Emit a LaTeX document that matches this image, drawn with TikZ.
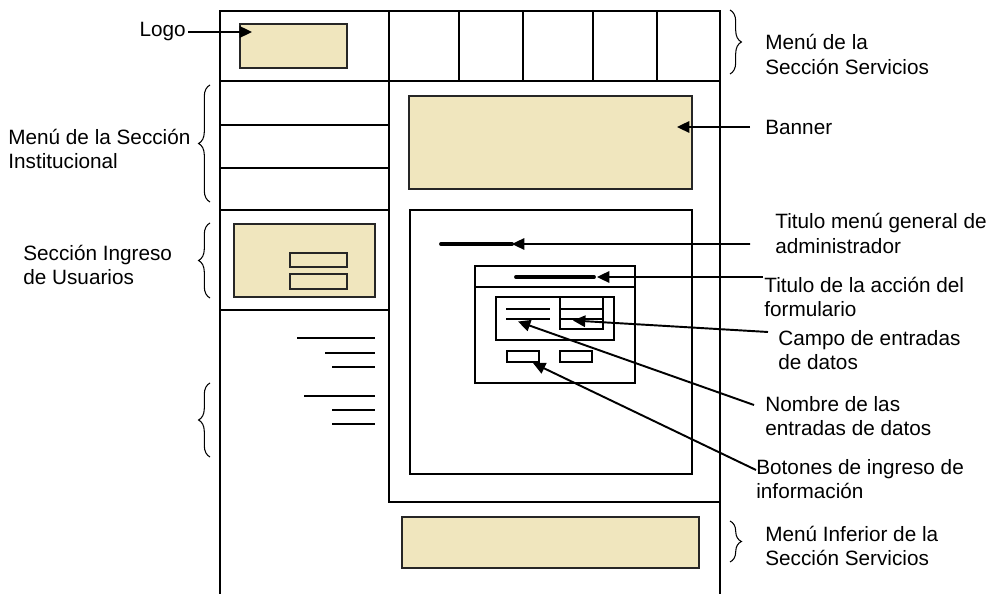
\documentclass[tikz,border=0pt]{standalone}
\usepackage{fontspec}
\setmainfont{Liberation Sans}
\usetikzlibrary{arrows.meta,decorations.pathreplacing,calc}
\definecolor{boxfill}{RGB}{240,230,190}
\tikzset{
  frame/.style={line width=1.1pt},
  thinline/.style={line width=0.8pt},
  fillbox/.style={draw=black!85, line width=0.8pt, fill=boxfill},
  pointer/.style={line width=1.1pt, -{Triangle[length=7pt,width=6.5pt]}},
  curly/.style={decorate, decoration={brace, amplitude=6.5pt}, line width=0.6pt},
  lbl/.style={font=\fontsize{11.8}{14}\selectfont, inner sep=0pt, align=left, anchor=west},
}
\begin{document}
\begin{tikzpicture}[x=0.02cm, y=-0.02cm]
    \useasboundingbox (0,0) rectangle (994,594);
    % page frame
    \draw[frame] (220,594) -- (220,11) -- (720,11) -- (720,594);
    \draw[frame] (220,81) -- (720,81);
    \draw[frame] (389,11) -- (389,502) -- (720,502);
    \foreach \x in {459,523,593,657} \draw[thinline] (\x,11) -- (\x,81);
    \foreach \y in {125,168} \draw[thinline] (220,\y) -- (389,\y);
    \draw[frame] (220,210) -- (389,210);
    \draw[frame] (220,310) -- (389,310);
    % logo, banner, footer
    \draw[fillbox] (240,24) rectangle (347,68);
    \draw[fillbox] (409,96) rectangle (692,189);
    \draw[fillbox] (402,517) rectangle (699,568);
    % login
    \draw[fillbox] (234,224) rectangle (375,297);
    \draw[fillbox] (290,253) rectangle (347,267);
    \draw[fillbox] (290,274) rectangle (347,289);
    \foreach \xa/\y in {297/338, 325/353, 332/367, 304/396, 332/410, 332/424}
        \draw[thinline] (\xa,\y) -- (375,\y);
    % content area and form
    \draw[frame] (410,210) rectangle (692,474);
    \draw[thinline] (475,266) rectangle (635,383);
    \draw[thinline] (475,287) -- (635,287);
    \draw[thinline] (496,297) rectangle (614,340);
    \draw[thinline] (560,297) rectangle (603,329);
    \foreach \y in {309,319} {
        \draw[thinline] (560,\y) -- (603,\y);
        \draw[thinline] (506,\y) -- (550,\y);
    }
    \draw[thinline] (507,351) rectangle (539,362);
    \draw[thinline] (560,351) rectangle (592,362);
    \draw[line width=2.2pt, line cap=round] (441,244) -- (512,244);
    \draw[line width=2.2pt, line cap=round] (516,277) -- (594,277);
    % braces
    \draw[curly] (210,202) -- (210,85);
    \draw[curly] (210,298) -- (210,223);
    \draw[curly] (210,457) -- (210,383);
    \draw[curly] (730,10) -- (730,74);
    \draw[curly] (730,521) -- (730,562);
    % labels
    \node[lbl, anchor=east] (llogo) at (186,32) {Logo};
    \node[lbl] (linst) at (8,149) {Menú de la Sección\\Institucional};
    \node[lbl] (lingreso) at (23,265) {Sección Ingreso\\de Usuarios};
    \node[lbl] (lservicios) at (765,54.5) {Menú de la\\Sección Servicios};
    \node[lbl] (lbanner) at (765,127) {Banner};
    \node[lbl] (ltitmenu) at (775,233.5) {Titulo menú general de\\administrador};
    \node[lbl] (ltitacc) at (764,297) {Titulo de la acción del\\formulario};
    \node[lbl] (lcampo) at (778,350) {Campo de entradas\\de datos};
    \node[lbl] (lnombre) at (765,416) {Nombre de las\\entradas de datos};
    \node[lbl] (lbotones) at (756,479) {Botones de ingreso de\\información};
    \node[lbl] (linferior) at (765,546) {Menú Inferior de la\\Sección Servicios};
    % arrow tips
    \coordinate (logotip) at (252,32);
    \coordinate (bannertip) at (677,127);
    \coordinate (menutip) at (512,244);
    \coordinate (acctip) at (597,277);
    \coordinate (campotip) at (573,320.5);
    \coordinate (nombretip) at (518,321.5);
    \coordinate (botontip) at (533,363);
    \draw[pointer] ($(llogo.east)+(2,0)$) -- (logotip);
    \draw[pointer] ($(lbanner.west)+(-15,0)$) -- (bannertip);
    \draw[pointer] ($(ltitmenu.west)+(-25,10.5)$) -- (menutip);
    \draw[pointer] ($(ltitacc.west)+(-1,-20)$) -- (acctip);
    \draw[pointer] ($(lcampo.west)+(-10,-18)$) -- (campotip);
    \draw[pointer] ($(lnombre.west)+(-11,-11)$) -- (nombretip);
    \draw[pointer] ($(lbotones.west)+(0,-9)$) -- (botontip);
\end{tikzpicture}
\end{document}
